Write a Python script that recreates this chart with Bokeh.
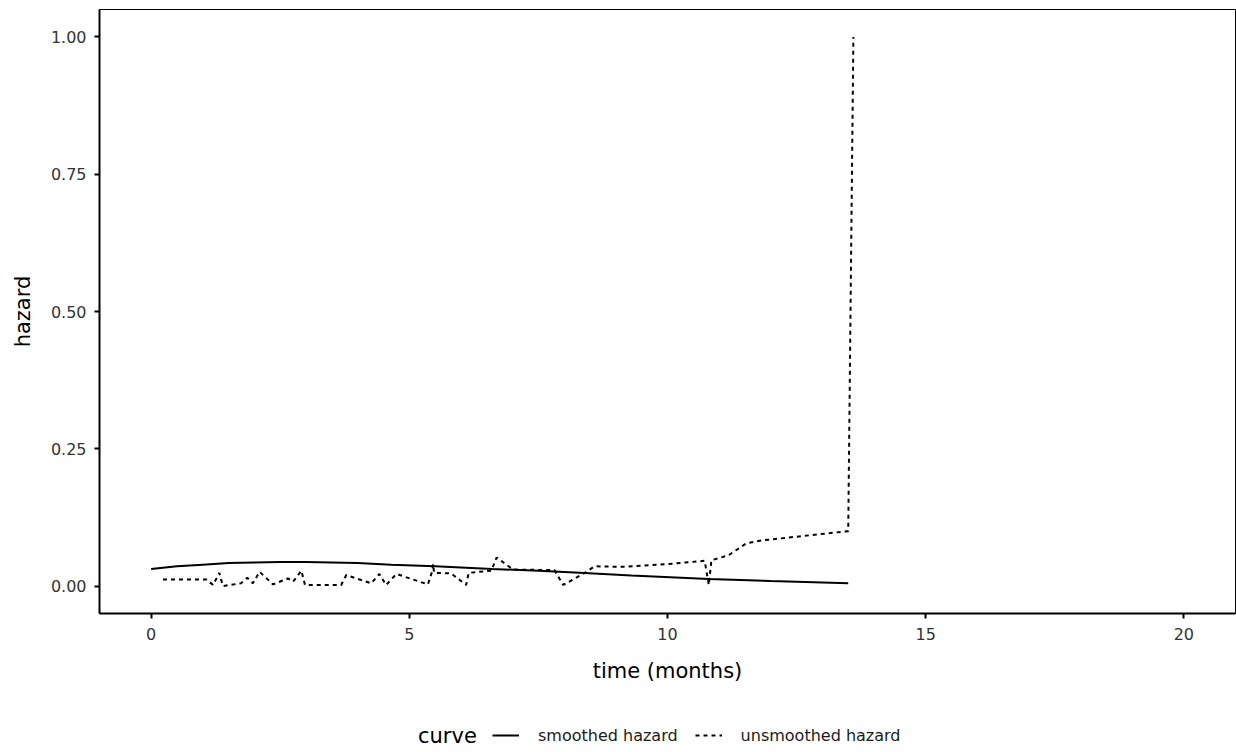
from bokeh.plotting import figure
from bokeh.layouts import column
from bokeh.models import Range1d, Legend, LegendItem, NumeralTickFormatter
from bokeh.embed import file_html
from bokeh.resources import INLINE

# ---- data ----
smooth_time = [0.0, 0.5, 1.0, 1.5, 2.0, 2.5, 3.0, 4.0, 4.65, 5.5, 6.6, 7.5, 8.3, 9.3, 10.8, 12.0, 13.5]
smooth_hazard = [0.031, 0.036, 0.039, 0.042, 0.043, 0.044, 0.044, 0.042, 0.039, 0.036, 0.031, 0.028, 0.024,
                 0.019, 0.013, 0.009, 0.005]

raw_time = [0.23, 1.07, 1.20, 1.32, 1.39, 1.74, 1.86, 1.97, 2.10, 2.36, 2.65, 2.75, 2.91, 2.98,
            3.68, 3.78, 4.26, 4.42, 4.55, 4.75, 5.36, 5.44, 5.46, 5.48, 5.81, 6.10, 6.15,
            6.59, 6.69, 7.01, 7.81, 7.98, 8.40, 8.59, 9.11, 10.0, 10.72, 10.80, 10.85,
            11.18, 11.53, 11.82, 13.50, 13.60]
raw_hazard = [0.012, 0.012, 0.002, 0.024, 0.000, 0.005, 0.015, 0.005, 0.026, 0.003, 0.014, 0.008, 0.028, 0.002,
              0.002, 0.020, 0.005, 0.022, 0.002, 0.022, 0.003, 0.026, 0.040, 0.024, 0.023, 0.002, 0.024,
              0.028, 0.052, 0.030, 0.029, 0.002, 0.024, 0.036, 0.035, 0.040, 0.046, 0.002, 0.047,
              0.056, 0.078, 0.083, 0.100, 1.000]

x_ticks = [0, 5, 10, 15, 20]
y_ticks = [0.0, 0.25, 0.5, 0.75, 1.0]
legend_title = "curve"
series_labels = ["smoothed hazard", "unsmoothed hazard"]

FONT = "DejaVu Sans"

p = figure(width=1236, height=690, output_backend="svg", toolbar_location=None,
           x_range=Range1d(-1, 21), y_range=Range1d(-0.05, 1.05),
           min_border_left=99, min_border_right=1, min_border_top=9, min_border_bottom=77,
           background_fill_color="white", border_fill_color="white")

p.xgrid.visible = False
p.ygrid.visible = False
p.outline_line_color = "black"
p.outline_line_width = 1

p.line(smooth_time, smooth_hazard, line_color="black", line_width=2)
p.line(raw_time, raw_hazard, line_color="black", line_width=2, line_dash="4 4")

for ax in (p.xaxis[0], p.yaxis[0]):
    ax.axis_line_color = "black"
    ax.axis_line_width = 2
    ax.major_tick_line_color = "black"
    ax.major_tick_line_width = 2
    ax.major_tick_out = 5
    ax.major_tick_in = 0
    ax.minor_tick_line_color = None
    ax.major_label_text_font = FONT
    ax.major_label_text_font_size = "16px"
    ax.major_label_text_color = "#333333"
    ax.axis_label_text_font = FONT
    ax.axis_label_text_font_size = "21px"
    ax.axis_label_text_font_style = "normal"
    ax.axis_label_text_color = "black"

p.xaxis.ticker = x_ticks
p.yaxis.ticker = y_ticks
p.yaxis.formatter = NumeralTickFormatter(format="0.00")
p.xaxis.axis_label = "time (months)"
p.yaxis.axis_label = "hazard"
p.xaxis.major_label_standoff = 9
p.yaxis.major_label_standoff = 8
p.xaxis.axis_label_standoff = 16
p.yaxis.axis_label_standoff = 13

# ---- legend strip below the plot (key lines drawn from the same data, kept out of view) ----
lg = figure(width=1236, height=62, output_backend="svg", toolbar_location=None,
            x_axis_type=None, y_axis_type=None, x_range=Range1d(-3, -2), y_range=Range1d(0, 1),
            min_border_left=0, min_border_right=0, min_border_top=0, min_border_bottom=0,
            background_fill_color="white", border_fill_color="white")
lg.outline_line_color = None
lg.xgrid.visible = False
lg.ygrid.visible = False
k_smooth = lg.line(smooth_time, smooth_hazard, line_color="black", line_width=2)
k_raw = lg.line(raw_time, raw_hazard, line_color="black", line_width=2, line_dash="4 4")
k_title = lg.line([], [], line_alpha=0)

title_leg = Legend(items=[LegendItem(label=legend_title, renderers=[k_title])],
                   orientation="horizontal", location=(319, 4),
                   glyph_width=0, glyph_height=20, label_standoff=0, padding=0, margin=0,
                   label_text_font=FONT, label_text_font_size="21px", label_height=20,
                   label_text_color="black",
                   background_fill_alpha=0, border_line_alpha=0)

leg = Legend(items=[LegendItem(label=series_labels[0], renderers=[k_smooth]),
                    LegendItem(label=series_labels[1], renderers=[k_raw])],
             orientation="horizontal", location=(393, 7),
             glyph_width=27, glyph_height=20, label_standoff=19, spacing=17, padding=0, margin=0,
             label_text_font=FONT, label_text_font_size="16px", label_height=20,
             label_text_color="#1a1a1a",
             background_fill_alpha=0, border_line_alpha=0)

lg.add_layout(title_leg, "center")
lg.add_layout(leg, "center")

open("out.html", "w").write(file_html(column(p, lg, spacing=0), INLINE))
